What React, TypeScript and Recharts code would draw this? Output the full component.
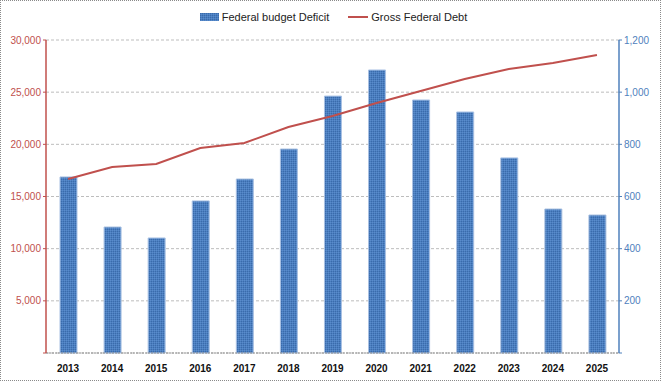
import { ComposedChart, Bar, Line, XAxis, YAxis, CartesianGrid } from 'recharts'

const years = ['2013', '2014', '2015', '2016', '2017', '2018', '2019', '2020', '2021', '2022', '2023', '2024', '2025']
const deficit = [675, 483, 441, 583, 667, 782, 985, 1085, 970, 924, 748, 552, 529]
const grossDebt = [16680, 17830, 18110, 19650, 20130, 21660, 22720, 23960, 25110, 26260, 27220, 27800, 28560]
const leftTicks = [0, 5000, 10000, 15000, 20000, 25000, 30000]
const rightTicks = [0, 200, 400, 600, 800, 1000, 1200]

const data = years.map((year, i) => ({ year, deficit: deficit[i], debt: grossDebt[i] }))

const RED = '#C0504D'
const BLUE = '#4F81BD'
const FONT = '"Liberation Sans", Arial, sans-serif'

const fmt = (v: number) => (v === 0 ? '' : v.toLocaleString('en-US'))

function LegendBox() {
  return (
    <div style={{ position: 'absolute', top: 10, left: 0, width: 661, display: 'flex', justifyContent: 'center', alignItems: 'center', fontFamily: FONT, fontSize: 11, color: '#222', gap: 19, paddingLeft: 4, boxSizing: 'border-box' }}>
      <span style={{ display: 'flex', alignItems: 'center' }}>
        <svg width={19} height={8} style={{ marginRight: 3 }}>
          <rect x={0} y={0} width={19} height={8} fill="url(#barPat)" />
        </svg>
        Federal budget Deficit
      </span>
      <span style={{ display: 'flex', alignItems: 'center' }}>
        <svg width={20} height={8} style={{ marginRight: 3 }}>
          <line x1={0} y1={4} x2={20} y2={4} stroke={RED} strokeWidth={2} />
        </svg>
        Gross Federal Debt
      </span>
    </div>
  )
}

export default function App() {
  return (
    <div style={{ position: 'absolute', left: 0, top: 0, width: 659, height: 379, border: '1px dotted #8a8a8a', background: '#fff' }}>
      <ComposedChart width={659} height={379} data={data} margin={{ top: 39, right: 0, bottom: 0, left: 0 }}>
        <defs>
          <pattern id="barPat" width={2} height={2} patternUnits="userSpaceOnUse">
            <rect width={2} height={2} fill="#4A7EC0" />
            <rect width={1} height={1} fill="#3B6BAA" />
            <rect x={1} y={1} width={1} height={1} fill="#5A8CCB" />
          </pattern>
        </defs>
        <CartesianGrid vertical={false} stroke="#BDBDBD" strokeDasharray="3 2" yAxisId="left" />
        <XAxis
          dataKey="year"
          height={27}
          tickLine={false}
          axisLine={{ stroke: '#8C8C8C', strokeDasharray: '2 1' }}
          tick={{ fontFamily: FONT, fontSize: 10, fontWeight: 'bold', fill: '#111' }}
          tickMargin={6}
        />
        <YAxis
          yAxisId="left"
          width={45}
          domain={[0, 30000]}
          ticks={leftTicks}
          tickFormatter={fmt}
          axisLine={{ stroke: RED, strokeWidth: 1.5 }}
          tickLine={{ stroke: RED }}
          tickSize={3}
          tick={{ fontFamily: FONT, fontSize: 10, fill: RED }}
          interval={0}
        />
        <YAxis
          yAxisId="right"
          orientation="right"
          width={41}
          domain={[0, 1200]}
          ticks={rightTicks}
          tickFormatter={fmt}
          axisLine={{ stroke: BLUE, strokeWidth: 1.5 }}
          tickLine={{ stroke: BLUE }}
          tickSize={3}
          tick={{ fontFamily: FONT, fontSize: 10, fill: BLUE }}
          interval={0}
        />
        <Bar yAxisId="right" dataKey="deficit" name="Federal budget Deficit" fill="url(#barPat)" stroke="#A9C1E3" strokeWidth={1} barSize={17} isAnimationActive={false} />
        <Line yAxisId="left" dataKey="debt" name="Gross Federal Debt" type="linear" stroke={RED} strokeWidth={2} dot={false} isAnimationActive={false} />
      </ComposedChart>
      <LegendBox />
    </div>
  )
}
